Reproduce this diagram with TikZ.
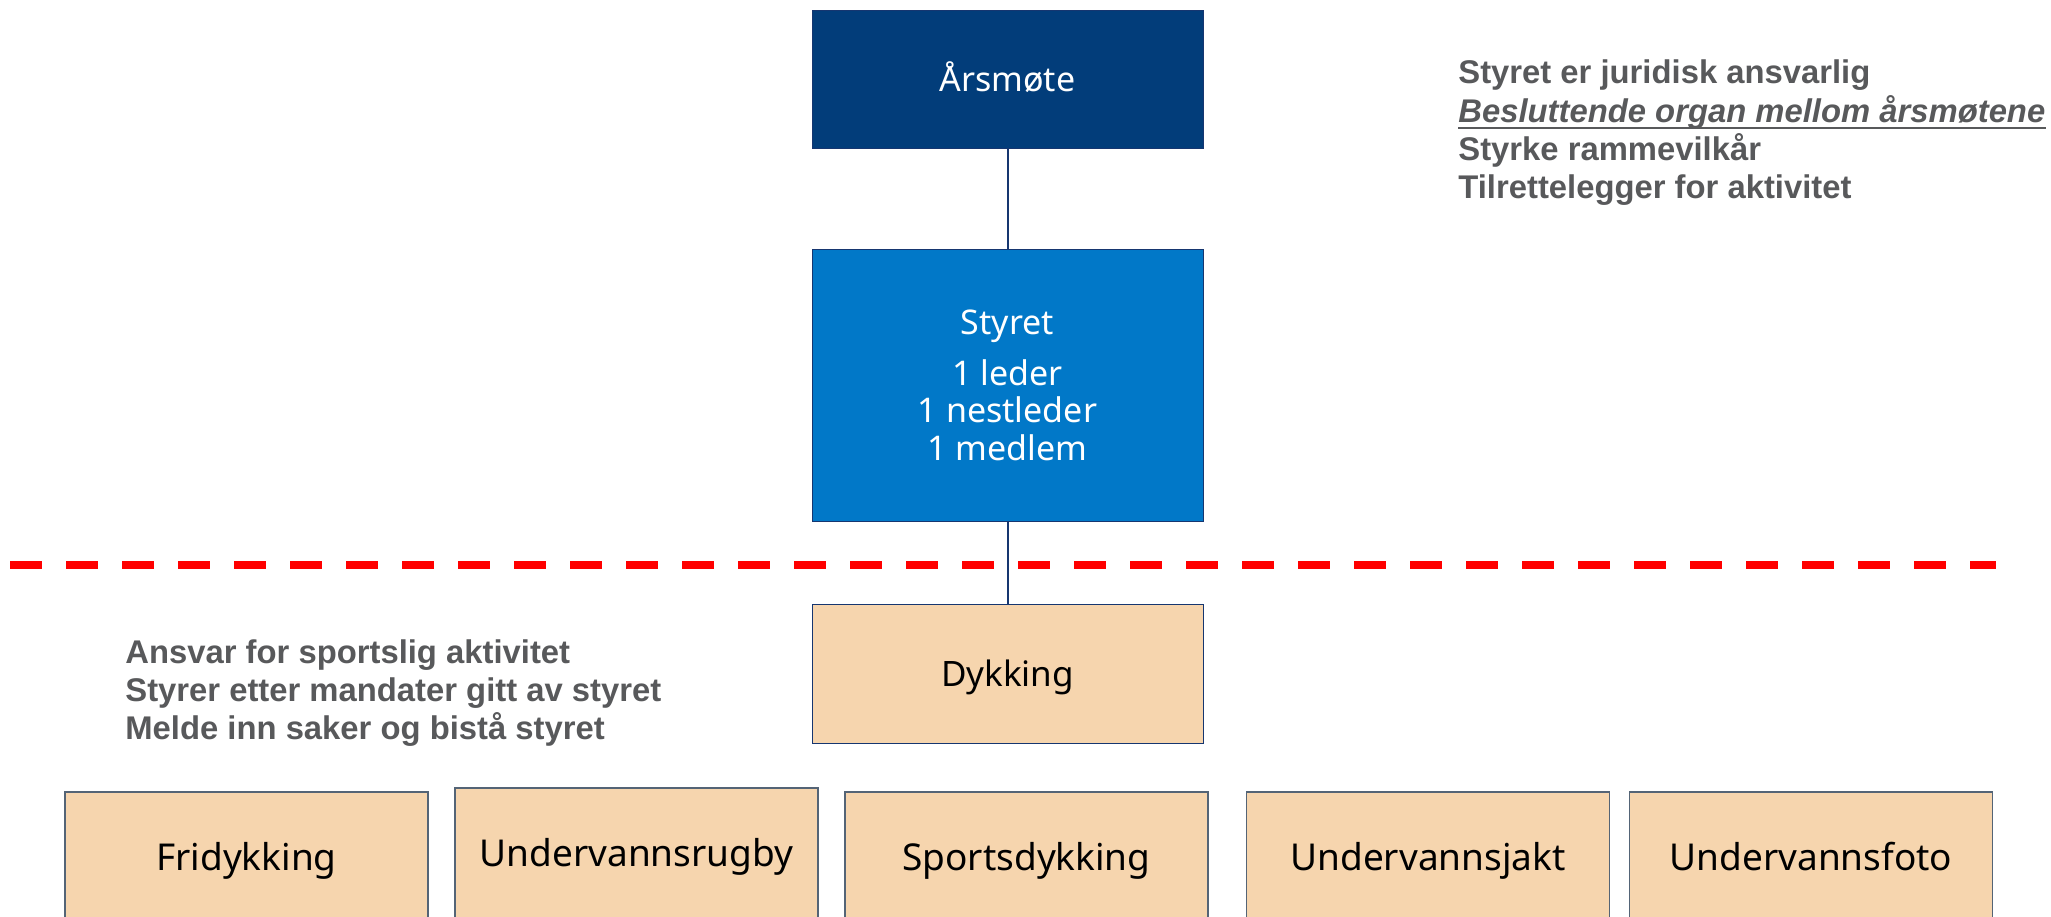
\documentclass[tikz,border=0pt]{standalone}
\usepackage{fontspec}
\setmainfont{Noto Sans}
\newfontfamily\notefont{Liberation Sans}
\usepackage{tikz}
\usepackage{xcolor}

\definecolor{aarsblue}{RGB}{2,61,122}
\definecolor{styreblue}{RGB}{1,120,200}
\definecolor{peach}{RGB}{246,213,174}
\definecolor{edgeblue}{RGB}{22,54,112}
\definecolor{edgegray}{RGB}{84,100,118}
\definecolor{notegray}{RGB}{88,89,91}

\begin{document}
\begin{tikzpicture}[x=0.5pt,y=0.5pt,yscale=-1,xscale=1,
  box/.style={draw=edgeblue, line width=0.5pt, minimum width=195.5pt, inner sep=0pt, align=center, font=\fontsize{17}{18.75}\selectfont},
  single/.style={text height=11.5pt, text depth=3pt},
  lowtext/.style={text height=15.5pt, text depth=3pt},
  branch/.style={box, single, draw=edgegray, line width=0.75pt, fill=peach, minimum width=181.5pt, minimum height=69.5pt, font=\fontsize{18.5}{20}\selectfont},
  note/.style={anchor=base west, inner sep=0pt, text=notegray, font=\fontsize{16.4}{18}\notefont\bfseries},
  conn/.style={draw=edgeblue, line width=1pt}]

\useasboundingbox (0,0) rectangle (2051,916);
\clip (0,0) rectangle (2051,916);

%Shape: Rectangle
\node [box, lowtext, fill=aarsblue, text=white, minimum height=69pt] (arsmote) at (1007.5,79) {Årsmøte};
%Shape: Rectangle
\node [box, fill=styreblue, text=white, minimum height=136pt] (styret) at (1007.5,385) {Styret\\[6.75pt]1 leder\\1 nestleder\\1 medlem};
%Shape: Rectangle
\node [box, lowtext, fill=peach, minimum height=69.5pt, font=\fontsize{17.5}{20}\selectfont] (dykking) at (1007.5,673.5) {Dykking};

%Shape: Rectangle
\node [branch] (fridykking) at (246.5,861.5) {Fridykking};
%Shape: Rectangle
\node [branch] (uvrugby) at (636.5,857.5) {Undervannsrugby};
%Shape: Rectangle
\node [branch] (sportsdykking) at (1026.5,861.5) {Sportsdykking};
%Shape: Rectangle
\node [branch] (uvjakt) at (1428,861.5) {Undervannsjakt};
%Shape: Rectangle
\node [branch] (uvfoto) at (1811,861.5) {Undervannsfoto};

%Straight Lines
\draw [conn] (arsmote) -- (styret);
%Straight Lines
\draw [conn] (styret) -- (dykking);

%Straight Lines
\draw [red, line width=4.2pt, dash pattern=on 16pt off 12pt] (10,565) -- (1996,565);

% Text Node
\node [note] (duty1) at (1458,83) {Styret er juridisk ansvarlig};
% Text Node
\node [note, font=\fontsize{16.4}{18}\notefont\bfseries\itshape] (duty2) at (1458,122) {Besluttende organ mellom årsmøtene};
\draw [notegray, line width=1.2pt] ([yshift=3pt]duty2.base west) -- ([yshift=3pt]duty2.base east);
% Text Node
\node [note] (duty3) at (1458,160) {Styrke rammevilkår};
% Text Node
\node [note] (duty4) at (1458,198) {Tilrettelegger for aktivitet};

% Text Node
\node [note] (task1) at (125,663) {Ansvar for sportslig aktivitet};
% Text Node
\node [note] (task2) at (125,701) {Styrer etter mandater gitt av styret};
% Text Node
\node [note] (task3) at (125,739) {Melde inn saker og bistå styret};

\end{tikzpicture}
\end{document}
